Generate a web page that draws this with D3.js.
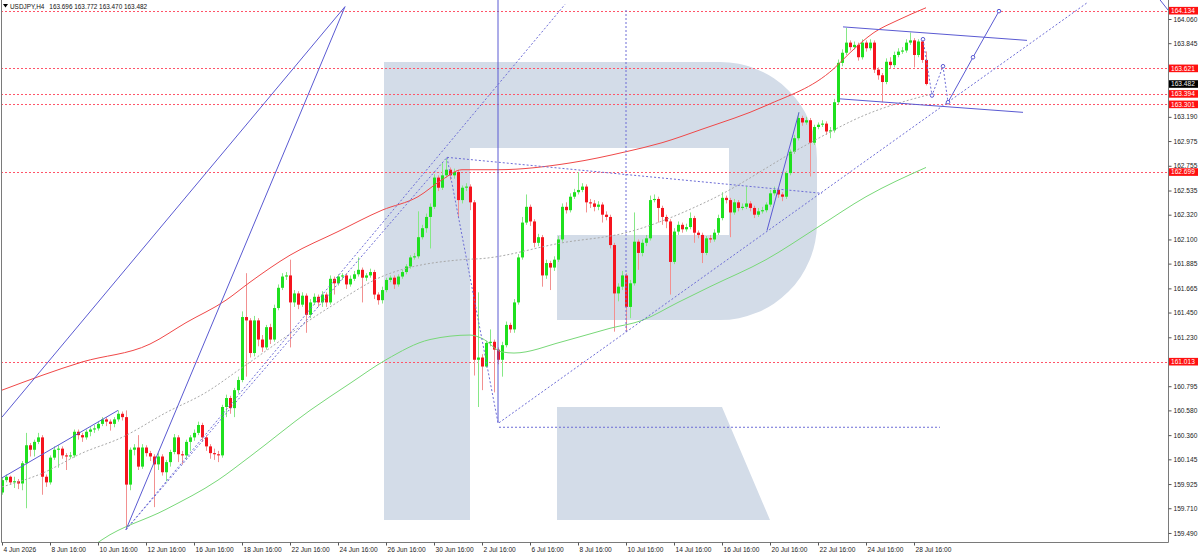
<!DOCTYPE html>
<html lang="en">
<head>
<meta charset="UTF-8">
<title>USDJPY H4</title>
<script src="https://d3js.org/d3.v7.min.js"></script>
<style>
  body { margin: 0; background: #fff; }
  svg { display: block; font-family: "Liberation Sans", Arial, sans-serif; }
</style>
</head>
<body>
<svg id="chart" width="1200" height="555"></svg>
<script>
// H4 bars, index 0 = 4 Jun 16:00
const open = [159.85,159.96,159.99,159.94,159.95,159.93,160.11,160.27,160.23,160.30,
160.34,159.99,159.94,160.16,160.23,160.24,160.18,160.17,160.18,160.39,
160.36,160.34,160.39,160.41,160.42,160.46,160.50,160.48,160.46,160.50,
160.55,160.52,159.92,160.23,160.25,160.08,160.25,160.20,160.17,160.10,
160.17,160.03,160.12,160.21,160.34,160.19,160.18,160.30,160.34,160.38,
160.45,160.34,160.26,160.20,160.19,160.18,160.61,160.69,160.60,160.76,
160.85,161.41,161.38,161.09,161.38,161.21,161.14,161.32,161.21,161.49,
161.67,161.77,161.78,161.54,161.62,161.52,161.60,161.43,161.54,161.59,
161.54,161.61,161.54,161.75,161.71,161.77,161.78,161.70,161.75,161.79,
161.83,161.76,161.78,161.81,161.61,161.56,161.65,161.74,161.76,161.70,
161.77,161.81,161.86,161.94,161.95,162.12,162.20,162.30,162.39,162.65,
162.56,162.67,162.72,162.67,162.70,162.45,162.56,162.57,162.43,161.03,
161.05,160.97,161.18,161.19,161.12,161.03,161.16,161.34,161.30,161.54,
161.94,162.25,162.39,162.26,162.07,162.12,161.78,161.89,161.85,161.92,
162.10,162.39,162.36,162.48,162.52,162.54,162.57,162.43,162.42,162.39,
162.41,162.32,162.30,162.05,161.62,161.68,161.78,161.50,161.71,162.08,
161.98,162.07,162.11,162.45,162.46,162.38,162.30,162.26,161.90,162.17,
162.23,162.19,162.21,162.29,162.16,162.14,161.98,162.11,162.10,162.16,
162.29,162.47,162.45,162.34,162.43,162.38,162.39,162.42,162.38,162.32,
162.35,162.36,162.41,162.51,162.54,162.50,162.48,162.69,162.88,163.00,
163.18,163.14,163.16,162.96,163.10,163.12,163.13,163.06,163.07,163.32,
163.67,163.76,163.85,163.81,163.83,163.72,163.85,163.80,163.85,163.61,
163.56,163.50,163.68,163.65,163.74,163.77,163.78,163.85,163.87,163.74,
163.86,163.696];

const high = [159.98,160.01,160.00,159.99,159.97,160.13,160.38,160.29,160.32,160.38,
160.36,160.01,160.18,160.26,160.27,160.26,160.20,160.21,160.41,160.41,
160.38,160.41,160.43,160.45,160.48,160.52,160.52,160.50,160.52,160.58,
160.57,160.58,160.25,160.28,160.36,160.28,160.27,160.22,160.19,160.20,
160.19,160.14,160.23,160.37,160.36,160.22,160.32,160.36,160.41,160.48,
160.47,160.36,160.28,160.24,160.22,160.63,160.72,160.71,160.78,160.88,
161.46,161.80,161.40,161.42,161.40,161.25,161.34,161.35,161.52,161.70,
161.80,161.81,161.92,161.65,161.64,161.63,161.62,161.57,161.62,161.61,
161.64,161.63,161.78,161.77,161.79,161.80,161.80,161.78,161.82,161.94,
161.85,161.80,161.84,161.83,161.63,161.68,161.76,161.78,161.78,161.79,
161.83,161.88,161.96,161.98,162.35,162.23,162.33,162.42,162.68,162.67,
162.78,162.82,162.74,162.73,162.72,162.58,162.60,162.59,162.45,161.63,
161.08,161.20,161.30,161.21,161.14,161.19,161.37,161.36,161.57,161.97,
162.30,162.50,162.41,162.28,162.15,162.14,161.92,161.91,161.95,162.13,
162.42,162.43,162.51,162.55,162.70,162.60,162.59,162.46,162.45,162.44,
162.43,162.35,162.32,162.07,161.71,161.82,161.80,161.74,162.34,162.10,
162.10,162.14,162.49,162.50,162.48,162.40,162.32,162.28,162.20,162.26,
162.25,162.24,162.34,162.31,162.18,162.16,162.13,162.14,162.19,162.32,
162.52,162.49,162.47,162.46,162.45,162.42,162.57,162.44,162.40,162.38,
162.39,162.43,162.54,162.57,162.56,162.52,162.71,162.90,163.03,163.23,
163.20,163.19,163.18,163.12,163.14,163.16,163.15,163.10,163.35,163.70,
163.79,163.98,163.87,163.86,163.85,163.88,163.87,163.88,163.87,163.63,
163.58,163.71,163.72,163.77,163.80,163.81,163.88,163.94,163.89,163.88,
163.89,163.772];

const low = [159.83,159.94,159.92,159.89,159.88,159.87,159.71,160.17,160.17,160.28,
159.83,159.90,159.92,160.14,160.07,160.15,160.05,160.15,160.16,160.32,
160.30,160.32,160.35,160.38,160.40,160.44,160.44,160.40,160.43,160.48,
160.49,159.52,159.87,160.18,160.05,160.06,160.17,160.13,159.72,160.05,
160.00,159.95,160.08,160.19,160.12,160.10,160.15,160.22,160.31,160.36,
160.30,160.22,160.15,160.14,160.12,160.16,160.52,160.55,160.52,160.73,
160.83,160.88,161.05,161.06,161.15,161.10,161.12,161.17,161.19,161.47,
161.65,161.74,161.14,161.50,161.48,161.50,161.27,161.40,161.52,161.50,
161.50,161.50,161.52,161.61,161.69,161.74,161.66,161.68,161.73,161.77,
161.54,161.73,161.76,161.57,161.52,161.53,161.63,161.72,161.66,161.68,
161.75,161.79,161.84,161.92,161.93,162.10,162.16,162.02,162.37,162.53,
162.54,162.65,162.63,162.64,162.29,162.42,162.53,162.36,160.89,160.61,
160.76,160.96,161.15,160.74,160.99,160.88,161.14,161.27,161.27,161.52,
161.92,162.23,162.22,162.03,162.04,161.68,161.75,161.65,161.82,161.90,
162.08,162.33,162.34,162.46,162.50,162.52,162.34,162.38,162.35,162.36,
162.25,162.27,162.02,161.28,161.55,161.65,161.28,161.40,161.69,161.83,
161.95,162.04,162.09,162.43,162.25,162.23,162.20,161.61,161.88,162.14,
162.16,162.17,162.19,162.07,162.11,161.89,161.96,162.07,162.08,162.14,
162.27,162.42,162.12,162.32,162.35,162.36,162.37,162.35,162.29,162.30,
162.33,162.34,162.39,162.49,162.47,162.44,162.46,162.67,162.86,162.98,
163.11,163.12,162.66,162.94,163.08,163.10,163.03,163.00,163.05,163.30,
163.64,163.74,163.78,163.79,163.69,163.70,163.77,163.78,163.58,163.52,
163.32,163.48,163.62,163.63,163.72,163.75,163.76,163.83,163.63,163.72,
163.67,163.470];

const close = [159.96,159.99,159.94,159.95,159.93,160.11,160.27,160.23,160.30,160.34,
159.99,159.94,160.16,160.23,160.24,160.18,160.17,160.18,160.39,160.36,
160.34,160.39,160.41,160.42,160.46,160.50,160.48,160.46,160.50,160.55,
160.52,159.92,160.23,160.25,160.08,160.25,160.20,160.17,160.10,160.17,
160.03,160.12,160.21,160.34,160.19,160.18,160.30,160.34,160.38,160.45,
160.34,160.26,160.20,160.19,160.18,160.61,160.69,160.60,160.76,160.85,
161.41,161.38,161.09,161.38,161.21,161.14,161.32,161.21,161.49,161.67,
161.77,161.78,161.54,161.62,161.52,161.60,161.43,161.54,161.59,161.54,
161.61,161.54,161.75,161.71,161.77,161.78,161.70,161.75,161.79,161.83,
161.76,161.78,161.81,161.61,161.56,161.65,161.74,161.76,161.70,161.77,
161.81,161.86,161.94,161.95,162.12,162.20,162.30,162.39,162.65,162.56,
162.67,162.72,162.67,162.70,162.45,162.56,162.57,162.43,161.03,161.05,
160.97,161.18,161.19,161.12,161.03,161.16,161.34,161.30,161.54,161.94,
162.25,162.39,162.26,162.07,162.12,161.78,161.89,161.85,161.92,162.10,
162.39,162.36,162.48,162.52,162.54,162.57,162.43,162.42,162.39,162.41,
162.32,162.30,162.05,161.62,161.68,161.78,161.50,161.71,162.08,161.98,
162.07,162.11,162.45,162.46,162.38,162.30,162.26,161.90,162.17,162.23,
162.19,162.21,162.29,162.16,162.14,161.98,162.11,162.10,162.16,162.29,
162.47,162.45,162.34,162.43,162.38,162.39,162.42,162.38,162.32,162.35,
162.36,162.41,162.51,162.54,162.50,162.48,162.69,162.88,163.00,163.18,
163.14,163.16,162.96,163.10,163.12,163.13,163.06,163.07,163.32,163.67,
163.76,163.85,163.81,163.83,163.72,163.85,163.80,163.85,163.61,163.56,
163.50,163.68,163.65,163.74,163.77,163.78,163.85,163.87,163.74,163.86,
163.696,163.482];

// x axis labels and the bar index they sit on
const timeLabels = ["4 Jun 2026","8 Jun 16:00","10 Jun 16:00","12 Jun 16:00","16 Jun 16:00",
  "18 Jun 16:00","22 Jun 16:00","24 Jun 16:00","26 Jun 16:00","30 Jun 16:00","2 Jul 16:00",
  "6 Jul 16:00","8 Jul 16:00","10 Jul 16:00","14 Jul 16:00","16 Jul 16:00","20 Jul 16:00",
  "22 Jul 16:00","24 Jul 16:00","28 Jul 16:00"];
const labelBars = [0,12,24,36,48,60,72,84,96,108,120,132,144,156,168,180,192,204,216,228];

// visible price scale labels (the ones under the level tags are covered in the original)
const priceTicks = [164.060,163.845,163.190,162.975,162.755,162.535,162.320,
  162.100,161.885,161.665,161.450,161.230,160.795,160.580,160.360,160.145,159.925,
  159.710,159.490];

const levels = [164.134, 163.621, 163.394, 163.301, 162.699, 161.013];
const lastPrice = 163.482;
const header = ["USDJPY,H4", "163.696 163.772 163.470 163.482"];

// moving averages [bar, price]
const maSlow = [[0,160.76],[20,161.01],[37,161.17],[46,161.36],[56,161.56],[62,161.72],[72,161.96],
  [84,162.17],[95,162.36],[104,162.48],[110,162.63],[115,162.72],[124,162.72],[142,162.78],
  [156,162.88],[165,162.96],[175,163.08],[191,163.29],[208,163.62],[212,163.76],[218,163.94],
  [224,164.05],[231,164.16]];
const maMid = [[23,159.38],[25,159.43],[41,159.70],[54,159.96],[62,160.17],[77,160.58],[87,160.82],
  [96,161.03],[107,161.21],[117,161.25],[120,161.22],[125,161.10],[128,161.09],[140,161.19],
  [152,161.31],[160,161.38],[169,161.54],[177,161.68],[191,161.92],[204,162.21],[216,162.48],
  [231,162.74]];
const maFast = [[0,159.90],[10,160.02],[20,160.20],[30,160.34],[41,160.56],[51,160.74],[60,160.96],
  [82,161.50],[95,161.77],[115,161.92],[120,161.93],[140,162.07],[156,162.16],[177,162.45],
  [200,162.92],[216,163.21],[232,163.39]];

// drawn objects [bar, price]
const solidLines = [
  [[0,160.52],[85.75,164.17]],
  [[31,159.52],[85.75,164.17]],
  [[0,159.98],[29,160.58]],
  [[124,164.30],[124,160.47]],
  [[191.25,162.18],[199.25,163.23]],
  [[210.25,163.99],[256.25,163.87]],
  [[209.5,163.35],[255.25,163.23]],
  [[289.5,164.23],[291.5,164.14]]
];
const dottedLines = [
  [[31,159.52],[140.75,164.19]],
  [[31,159.52],[111.25,162.83]],
  [[111.25,162.83],[205,162.51]],
  [[111.25,162.83],[124,160.47]],
  [[124.25,160.43],[234.5,160.43]],
  [[124.25,160.47],[271.5,164.21]],
  [[156,164.14],[156,161.28]]
];
const forecastDotted = [[230.25,163.88],[232.5,163.38],[235.25,163.64],[236.5,163.32]];
const forecastSolid = [[236.5,163.32],[242.75,163.72],[249.25,164.13]];

const svg = d3.select("#chart");
const plot = { left: 1, right: 1168, top: 0, bottom: 542 };

const x = d3.scaleLinear().domain([0, 291.5]).range([2, 1168]);
const y = d3.scaleLinear().domain([159.4, 164.229]).range([543.1, 0]);

svg.append("defs").append("clipPath").attr("id", "clip")
  .append("rect")
  .attr("x", plot.left).attr("y", plot.top)
  .attr("width", plot.right - plot.left).attr("height", plot.bottom - plot.top);

const g = svg.append("g").attr("clip-path", "url(#clip)");

// watermark logo
g.append("path")
  .attr("d", "M384,62 H720 A97,97 0 0 1 817,159 V223 A97,97 0 0 1 720,320 H557 V235 H729 V148 H470 V520 H384 Z M557,407 H722 L770,520 H557 Z")
  .attr("fill", "#d3dce8");

// horizontal levels
g.selectAll(".level").data(levels).join("line")
  .attr("x1", plot.left).attr("x2", plot.right)
  .attr("y1", d => Math.round(y(d)) + 0.5).attr("y2", d => Math.round(y(d)) + 0.5)
  .attr("stroke", "#ff5468").attr("stroke-dasharray", "2,2");

// candles
const bars = close.map((c, i) => ({ i, o: open[i], h: high[i], l: low[i], c }));
g.selectAll(".wick").data(bars).join("line")
  .attr("x1", d => x(d.i) + 0.5).attr("x2", d => x(d.i) + 0.5)
  .attr("y1", d => y(d.h)).attr("y2", d => y(d.l))
  .attr("stroke", d => d.c >= d.o ? "#86e886" : "#f29090");
g.selectAll(".body").data(bars).join("rect")
  .attr("x", d => x(d.i) - 1)
  .attr("width", 3)
  .attr("y", d => y(Math.max(d.o, d.c)))
  .attr("height", d => Math.max(1, Math.abs(y(d.o) - y(d.c))))
  .attr("fill", d => d.c >= d.o ? "#1fe01f" : "#f5141e");

// moving averages
const curve = d3.line().x(d => x(d[0])).y(d => y(d[1])).curve(d3.curveMonotoneX);
g.append("path").attr("d", curve(maSlow)).attr("fill", "none").attr("stroke", "#f04848");
g.append("path").attr("d", curve(maMid)).attr("fill", "none").attr("stroke", "#78d878");
g.append("path").attr("d", curve(maFast)).attr("fill", "none").attr("stroke", "#a8a8a8")
  .attr("stroke-dasharray", "2,2");

// drawn objects
const seg = d3.line().x(d => x(d[0])).y(d => y(d[1]));
g.selectAll(".solid").data(solidLines).join("path")
  .attr("d", seg).attr("fill", "none").attr("stroke", "#5a5ad2");
g.selectAll(".dotted").data(dottedLines).join("path")
  .attr("d", seg).attr("fill", "none").attr("stroke", "#6c6cd6").attr("stroke-dasharray", "2,2");
g.append("path").attr("d", seg(forecastDotted)).attr("fill", "none")
  .attr("stroke", "#6c6cd6").attr("stroke-dasharray", "2,2");
g.append("path").attr("d", seg(forecastSolid)).attr("fill", "none").attr("stroke", "#5a5ad2");
g.selectAll(".node").data(forecastDotted.concat(forecastSolid.slice(1))).join("circle")
  .attr("cx", d => x(d[0])).attr("cy", d => y(d[1])).attr("r", 1.8)
  .attr("fill", "#fff").attr("stroke", "#5a5ad2");

// frame
svg.append("path")
  .attr("d", `M${plot.left + 0.5},0 V${plot.bottom + 0.5} H${plot.right + 0.5} V0`)
  .attr("fill", "none").attr("stroke", "#7a7a7a");

// price axis
const yAxis = svg.append("g")
  .attr("transform", `translate(${plot.right + 0.5},0)`)
  .call(d3.axisRight(y).tickValues(priceTicks).tickSize(3).tickPadding(2)
    .tickFormat(d3.format(".3f")));
yAxis.select(".domain").remove();
yAxis.selectAll("line").attr("stroke", "#555");
yAxis.selectAll("text").attr("font-size", "6.6px").attr("fill", "#222")
  .attr("font-family", "Liberation Sans, Arial, sans-serif");

// time axis
const xAxis = svg.append("g")
  .attr("transform", `translate(0,${plot.bottom + 0.5})`)
  .call(d3.axisBottom(x).tickValues(labelBars).tickSize(3).tickPadding(2)
    .tickFormat((d, i) => timeLabels[i]));
xAxis.select(".domain").remove();
xAxis.selectAll("line").attr("stroke", "#555");
xAxis.selectAll("text").attr("font-size", "6.6px").attr("fill", "#222")
  .attr("text-anchor", "start").attr("x", 1)
  .attr("font-family", "Liberation Sans, Arial, sans-serif");

// level tags
const tags = svg.append("g");
tags.selectAll("rect").data(levels).join("rect")
  .attr("x", plot.right + 1).attr("width", 29)
  .attr("y", d => y(d) - 3.8).attr("height", 7.6)
  .attr("fill", "#ff1010");
tags.selectAll("text").data(levels).join("text")
  .attr("x", plot.right + 3).attr("y", d => y(d) + 2.4)
  .attr("font-size", "6.6px").attr("fill", "#fff")
  .text(d => d3.format(".3f")(d));
tags.append("rect")
  .attr("x", plot.right + 1).attr("width", 29)
  .attr("y", y(lastPrice) - 3.8).attr("height", 7.6).attr("fill", "#000");
tags.append("text")
  .attr("x", plot.right + 3).attr("y", y(lastPrice) + 2.4)
  .attr("font-size", "6.6px").attr("fill", "#eee")
  .text(d3.format(".3f")(lastPrice));

// header
svg.append("path").attr("d", "M3,4 H8 L5.5,7.5 Z").attr("fill", "#000");
const h1 = svg.append("text").attr("x", 10).attr("y", 8.6).attr("font-size", "6.4px").attr("fill", "#111")
  .text(header[0]);
const h1w = h1.node().getComputedTextLength();
svg.append("text").attr("x", 10 + h1w + 5).attr("y", 8.6).attr("font-size", "6.4px").attr("fill", "#111")
  .text(header[1]);
</script>
</body>
</html>
